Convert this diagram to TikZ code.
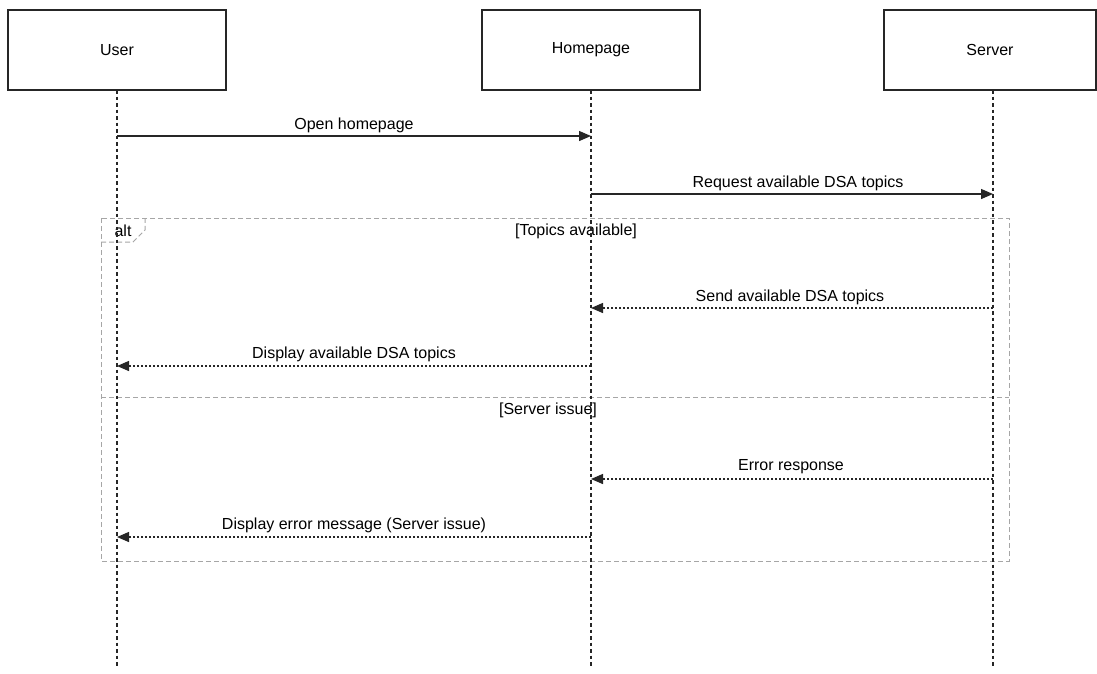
\documentclass[tikz,border=0pt]{standalone}
\usepackage{fontspec}
\setmainfont{Liberation Sans}
\usetikzlibrary{arrows.meta}
\begin{document}
\begin{tikzpicture}[x=1pt,y=-1pt,
  txt/.style={font=\fontsize{16}{18}\selectfont},
  actor/.style={txt,draw=black!85,line width=1.1pt,minimum width=218pt,minimum height=80pt,inner sep=0pt},
  life/.style={draw=black!85,line width=1.3pt,dash pattern=on 3.5pt off 3pt},
  msg/.style={draw=black!85,line width=1.3pt,-{Triangle[length=12pt,width=10pt]}},
  reply/.style={msg,dash pattern=on 2pt off 2pt},
  lbl/.style={txt,inner sep=1pt,fill=white},
  frame/.style={draw=black!35,line width=1pt,dash pattern=on 5pt off 3pt},
]
\useasboundingbox (0,0) rectangle (1097,673);
\fill[white] (0,0) rectangle (1097,673);
\node[actor] (user) at (117,50) {User};
\node[actor] (home) at (591,50) {Homepage};
\node[actor,minimum width=212pt] (server) at (990,50) {Server};
\coordinate (ue) at (117,668);
\coordinate (he) at (591,668);
\coordinate (se) at (993,668);
\coordinate (us) at (117,90);
\coordinate (hs) at (591,90);
\coordinate (ss) at (993,90);
% frame
\draw[frame] (101,218) rectangle (1009,561);
\draw[frame] (101,397) -- (1009,397);
\draw[frame] (101,242) -- (133,242) -- (145,230) -- (145,218);
\node[txt,inner sep=0pt] (alt) at (123,231) {alt};
\node[txt,inner sep=0pt] (g1) at (576,231) {[Topics available]};
\node[txt,inner sep=0pt] (g2) at (548,410) {[Server issue]};
% lifelines
\draw[life] (us) -- (ue);
\draw[life] (hs) -- (he);
\draw[life] (ss) -- (se);
% messages
\coordinate (m1a) at (117,136); \coordinate (m1b) at (591,136);
\coordinate (m2a) at (591,194); \coordinate (m2b) at (993,194);
\coordinate (m3a) at (993,308); \coordinate (m3b) at (591,308);
\coordinate (m4a) at (591,366); \coordinate (m4b) at (117,366);
\coordinate (m5a) at (993,479); \coordinate (m5b) at (591,479);
\coordinate (m6a) at (591,537); \coordinate (m6b) at (117,537);
\draw[msg] (m1a) -- (m1b);
\node[lbl] (l1) at (354,125) {Open homepage};
\draw[msg] (m2a) -- (m2b);
\node[lbl] (l2) at (798,183) {Request available DSA topics};
\draw[reply] (m3a) -- (m3b);
\node[lbl] (l3) at (790,297) {Send available DSA topics};
\draw[reply] (m4a) -- (m4b);
\node[lbl] (l4) at (354,354) {Display available DSA topics};
\draw[reply] (m5a) -- (m5b);
\node[lbl] (l5) at (791,467) {Error response};
\draw[reply] (m6a) -- (m6b);
\node[lbl] (l6) at (354,525) {Display error message (Server issue)};
\end{tikzpicture}
\end{document}
